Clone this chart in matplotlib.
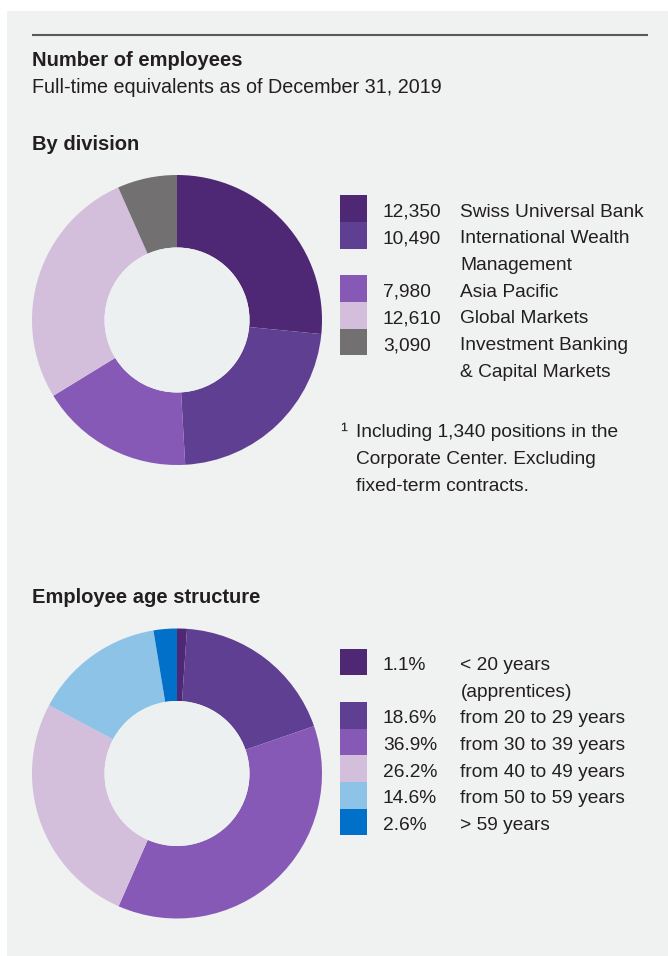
import matplotlib.pyplot as plt
from matplotlib.patches import Rectangle

plt.rcParams['font.family'] = ['Liberation Sans', 'DejaVu Sans']

# data
div_labels = ['Swiss Universal Bank', 'International Wealth\nManagement', 'Asia Pacific',
              'Global Markets', 'Investment Banking\n& Capital Markets']
div_values = [12350, 10490, 7980, 12610, 3090]
div_colors = ['#4e2874', '#5f3f92', '#8659b6', '#d3bfdc', '#727070']
total_employees = 47860

age_labels = ['< 20 years\n(apprentices)', 'from 20 to 29 years', 'from 30 to 39 years',
              'from 40 to 49 years', 'from 50 to 59 years', '> 59 years']
age_values = [1.1, 18.6, 36.9, 26.2, 14.6, 2.6]
age_colors = ['#4e2874', '#5f3f92', '#8659b6', '#d3bfdc', '#8ec3e8', '#0070c9']

W, H = 668, 956
txt = '#231f20'
fig = plt.figure(figsize=(W / 100, H / 100), dpi=100)
fig.patch.set_facecolor('white')

# background axes in pixel coords
bg = fig.add_axes([0, 0, 1, 1])
bg.set_xlim(0, W)
bg.set_ylim(H, 0)
bg.axis('off')
bg.add_patch(Rectangle((7, 11), W - 7, H - 11, color='#f0f1f1', lw=0))
bg.plot([32, 648], [34.5, 34.5], color='#58595b', lw=1.5, solid_capstyle='butt')

bg.text(32, 65.5, 'Number of employees', fontsize=14.5, fontweight='bold', color=txt)
bg.text(32, 92.5, 'Full-time equivalents as of December 31, 2019', fontsize=14.2, color=txt)
bg.text(32, 150, 'By division', fontsize=14.5, fontweight='bold', color=txt)
bg.text(32, 603, 'Employee age structure', fontsize=14.5, fontweight='bold', color=txt)


def legend(y0, values, labels, colors, fmt):
    row = 0
    step = 26.67
    for v, lab, c in zip(values, labels, colors):
        base = y0 + row * step
        bg.add_patch(Rectangle((340, base - 21.5), 27, step, color=c, lw=0))
        bg.text(383, base, fmt(v), fontsize=13.8, color=txt)
        for i, line in enumerate(lab.split('\n')):
            bg.text(460.5, base + i * step, line, fontsize=13.8, color=txt)
        row += len(lab.split('\n'))


legend(216.7, div_values, div_labels, div_colors, lambda v: f'{v:,}')
legend(670, age_values, age_labels, age_colors, lambda v: f'{v}%')

# footnote
bg.text(340, 436.7, '¹', fontsize=15, color=txt)
foot = ['Including 1,340 positions in the', 'Corporate Center. Excluding', 'fixed-term contracts.']
for i, line in enumerate(foot):
    bg.text(355.5, 436.7 + i * 27.2, line, fontsize=13.8, color=txt)


def donut(cy, values, colors):
    ax = fig.add_axes([32 / W, 1 - (cy + 145) / H, 290 / W, 290 / H])
    ax.pie(values, colors=colors, startangle=90, counterclock=False, radius=1,
           wedgeprops=dict(width=0.5, linewidth=0))
    ax.add_patch(plt.Circle((0, 0), 0.5, color='#edf0f1', lw=0))
    ax.set_xlim(-1, 1)
    ax.set_ylim(-1, 1)
    ax.set_aspect('equal')
    ax.axis('off')
    return ax


donut(320, div_values, div_colors)
donut(773.5, age_values, age_colors)

# center text of first donut
bg.text(129, 300.7, 'Total:', fontsize=14.3, fontweight='bold', color=txt, zorder=5)
bg.text(129, 327.3, f'{total_employees:,}', fontsize=14.3, fontweight='bold', color=txt, zorder=5)
bg.text(129, 354.3, 'employees¹', fontsize=14.3, fontweight='bold', color=txt, zorder=5)

plt.savefig('out.png', dpi=100)
